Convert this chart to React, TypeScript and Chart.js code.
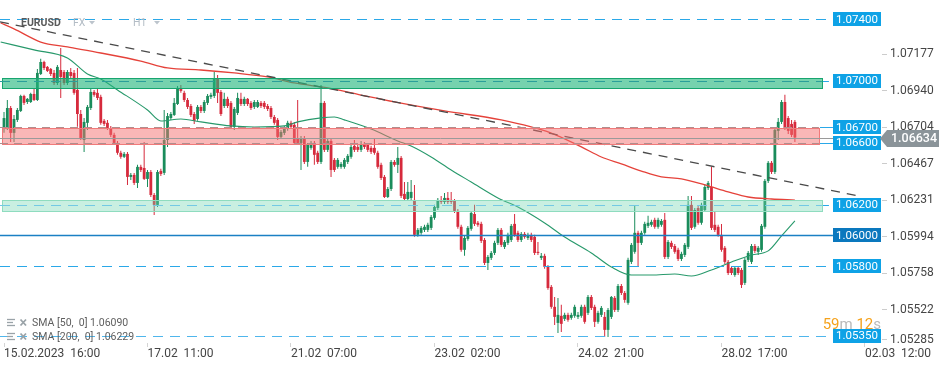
import React, { useEffect, useRef } from 'react';
import { Chart, registerables } from 'chart.js';

Chart.register(...registerables);

// ---------- DATA (EURUSD H1) ----------
const OPEN = [
  1.06696, 1.06696, 1.06825, 1.06664, 1.06748, 1.06806, 1.06903, 1.06864, 1.06864, 1.06916,
  1.06877, 1.07045, 1.07123, 1.07091, 1.07078, 1.07052, 1.06987, 1.07071, 1.07058, 1.06987,
  1.07058, 1.07052, 1.06942, 1.06786, 1.06618, 1.06729, 1.06825, 1.06929, 1.06923, 1.06897,
  1.06742, 1.06729, 1.06696, 1.06651, 1.06599, 1.06535, 1.06509, 1.06528, 1.06379, 1.06392,
  1.06340, 1.06444, 1.06437, 1.06366, 1.06411, 1.06262, 1.06198, 1.06418, 1.06405, 1.06618,
  1.06760, 1.06780, 1.06851, 1.06955, 1.06923, 1.06877, 1.06838, 1.06786, 1.06754, 1.06832,
  1.06806, 1.06858, 1.06897, 1.06903, 1.07013, 1.06929, 1.06838, 1.06884, 1.06858, 1.06703,
  1.06793, 1.06884, 1.06851, 1.06884, 1.06858, 1.06832, 1.06832, 1.06858, 1.06858, 1.06838,
  1.06825, 1.06767, 1.06748, 1.06638, 1.06664, 1.06690, 1.06729, 1.06716, 1.06631, 1.06599,
  1.06631, 1.06476, 1.06567, 1.06599, 1.06535, 1.06476, 1.06858, 1.06554, 1.06612, 1.06489,
  1.06444, 1.06444, 1.06444, 1.06476, 1.06509, 1.06580, 1.06573, 1.06554, 1.06593, 1.06586,
  1.06567, 1.06567, 1.06535, 1.06457, 1.06379, 1.06249, 1.06301, 1.06476, 1.06457, 1.06502,
  1.06269, 1.06236, 1.06243, 1.06230, 1.06004, 1.06017, 1.06036, 1.06036, 1.06049, 1.06114,
  1.06178, 1.06230, 1.06217, 1.06243, 1.06230, 1.06224, 1.06159, 1.06056, 1.05907, 1.05978,
  1.06043, 1.06139, 1.06082, 1.06075, 1.05971, 1.05822, 1.05855, 1.05887, 1.05952, 1.06036,
  1.05926, 1.05952, 1.05971, 1.06075, 1.06017, 1.05971, 1.06010, 1.05984, 1.06004, 1.05991,
  1.05894, 1.05855, 1.05868, 1.05797, 1.05667, 1.05538, 1.05434, 1.05480, 1.05460, 1.05486,
  1.05467, 1.05480, 1.05473, 1.05480, 1.05538, 1.05499, 1.05602, 1.05538, 1.05441, 1.05486,
  1.05473, 1.05389, 1.05473, 1.05596, 1.05518, 1.05673, 1.05628, 1.05564, 1.05829, 1.05894,
  1.06017, 1.05952, 1.06017, 1.06062, 1.06069, 1.06101, 1.06056, 1.06069, 1.06101, 1.05861,
  1.05952, 1.05932, 1.05907, 1.05848, 1.05874, 1.05926, 1.06198, 1.06056, 1.06178, 1.06082,
  1.06165, 1.06307, 1.06314, 1.06069, 1.06056, 1.06004, 1.05920, 1.05829, 1.05790, 1.05744,
  1.05790, 1.05777, 1.05693, 1.05842, 1.05829, 1.05932, 1.05894, 1.05907, 1.06056, 1.06353,
  1.06470, 1.06411, 1.06677, 1.06735, 1.06864, 1.06760, 1.06722, 1.06735,
];
const HIGH = [
  1.06799, 1.06877, 1.06838, 1.06780, 1.06825, 1.06910, 1.06910, 1.06890, 1.06923, 1.06948,
  1.07078, 1.07143, 1.07130, 1.07097, 1.07084, 1.07071, 1.07104, 1.07213, 1.07071, 1.07071,
  1.07084, 1.07071, 1.07084, 1.06812, 1.06760, 1.06845, 1.06948, 1.06942, 1.06948, 1.06910,
  1.06754, 1.06748, 1.06709, 1.06664, 1.06612, 1.06548, 1.06541, 1.06541, 1.06405, 1.06405,
  1.06457, 1.06457, 1.06605, 1.06424, 1.06424, 1.06275, 1.06424, 1.06431, 1.06812, 1.06793,
  1.06799, 1.06890, 1.06968, 1.06974, 1.06936, 1.06890, 1.06851, 1.06799, 1.06845, 1.06845,
  1.06877, 1.06916, 1.06923, 1.07058, 1.07039, 1.06942, 1.06923, 1.06897, 1.06871, 1.06832,
  1.06923, 1.06923, 1.06897, 1.06890, 1.06871, 1.06877, 1.06877, 1.06871, 1.06871, 1.06851,
  1.06838, 1.06780, 1.06760, 1.06683, 1.06709, 1.06742, 1.06742, 1.06735, 1.06877, 1.06644,
  1.06644, 1.06599, 1.06612, 1.06612, 1.06548, 1.06974, 1.06871, 1.06625, 1.06625, 1.06502,
  1.06502, 1.06476, 1.06502, 1.06528, 1.06586, 1.06618, 1.06586, 1.06612, 1.06605, 1.06599,
  1.06580, 1.06631, 1.06548, 1.06470, 1.06392, 1.06314, 1.06489, 1.06489, 1.06573, 1.06515,
  1.06346, 1.06346, 1.06359, 1.06327, 1.06049, 1.06062, 1.06069, 1.06082, 1.06133, 1.06198,
  1.06243, 1.06256, 1.06275, 1.06282, 1.06282, 1.06236, 1.06172, 1.06069, 1.05997, 1.06062,
  1.06159, 1.06198, 1.06094, 1.06088, 1.05984, 1.05874, 1.05900, 1.05965, 1.06049, 1.06049,
  1.05971, 1.06017, 1.06075, 1.06139, 1.06030, 1.06023, 1.06023, 1.06017, 1.06017, 1.06004,
  1.05958, 1.05887, 1.05881, 1.05809, 1.05680, 1.05602, 1.05596, 1.05551, 1.05499, 1.05499,
  1.05499, 1.05551, 1.05505, 1.05551, 1.05551, 1.05615, 1.05615, 1.05551, 1.05512, 1.05544,
  1.05505, 1.05531, 1.05609, 1.05609, 1.05686, 1.05686, 1.05641, 1.05855, 1.05952, 1.06191,
  1.06030, 1.06030, 1.06088, 1.06127, 1.06101, 1.06114, 1.06114, 1.06107, 1.06146, 1.05971,
  1.05965, 1.05945, 1.05920, 1.05894, 1.05952, 1.06256, 1.06256, 1.06178, 1.06191, 1.06211,
  1.06333, 1.06353, 1.06444, 1.06152, 1.06069, 1.06075, 1.05932, 1.05842, 1.05803, 1.05803,
  1.05803, 1.05790, 1.05855, 1.05900, 1.05945, 1.05945, 1.05932, 1.06075, 1.06366, 1.06482,
  1.06482, 1.06696, 1.06760, 1.06877, 1.06910, 1.06773, 1.06748, 1.06748,
];
const LOW = [
  1.06664, 1.06683, 1.06605, 1.06605, 1.06735, 1.06799, 1.06845, 1.06851, 1.06858, 1.06871,
  1.06871, 1.07039, 1.07071, 1.07058, 1.07032, 1.06974, 1.06974, 1.06890, 1.06974, 1.06974,
  1.07019, 1.06910, 1.06703, 1.06618, 1.06541, 1.06683, 1.06812, 1.06897, 1.06877, 1.06716,
  1.06709, 1.06683, 1.06638, 1.06586, 1.06522, 1.06496, 1.06502, 1.06327, 1.06359, 1.06327,
  1.06307, 1.06411, 1.06359, 1.06314, 1.06249, 1.06133, 1.06185, 1.06385, 1.06392, 1.06573,
  1.06748, 1.06773, 1.06845, 1.06923, 1.06864, 1.06819, 1.06767, 1.06722, 1.06742, 1.06793,
  1.06793, 1.06845, 1.06884, 1.06890, 1.06858, 1.06773, 1.06825, 1.06825, 1.06690, 1.06683,
  1.06780, 1.06838, 1.06838, 1.06838, 1.06812, 1.06819, 1.06825, 1.06825, 1.06819, 1.06806,
  1.06754, 1.06716, 1.06618, 1.06625, 1.06651, 1.06677, 1.06690, 1.06586, 1.06586, 1.06424,
  1.06463, 1.06444, 1.06554, 1.06457, 1.06463, 1.06463, 1.06541, 1.06541, 1.06379, 1.06411,
  1.06431, 1.06431, 1.06431, 1.06463, 1.06496, 1.06541, 1.06541, 1.06541, 1.06560, 1.06541,
  1.06528, 1.06522, 1.06431, 1.06359, 1.06243, 1.06243, 1.06288, 1.06444, 1.06405, 1.06243,
  1.06224, 1.06224, 1.06230, 1.05991, 1.05991, 1.06004, 1.06023, 1.06023, 1.06036, 1.06101,
  1.06165, 1.06204, 1.06204, 1.06204, 1.06204, 1.06146, 1.06043, 1.05894, 1.05868, 1.05965,
  1.06030, 1.06062, 1.06056, 1.05952, 1.05809, 1.05777, 1.05842, 1.05874, 1.05939, 1.05926,
  1.05913, 1.05939, 1.05958, 1.05991, 1.05958, 1.05958, 1.05978, 1.05971, 1.05958, 1.05874,
  1.05874, 1.05842, 1.05784, 1.05648, 1.05525, 1.05421, 1.05369, 1.05376, 1.05447, 1.05441,
  1.05454, 1.05467, 1.05460, 1.05467, 1.05428, 1.05486, 1.05518, 1.05408, 1.05428, 1.05473,
  1.05343, 1.05343, 1.05460, 1.05505, 1.05505, 1.05615, 1.05564, 1.05551, 1.05816, 1.05881,
  1.05803, 1.05939, 1.06004, 1.06049, 1.06056, 1.06043, 1.06043, 1.06056, 1.05848, 1.05848,
  1.05913, 1.05881, 1.05835, 1.05835, 1.05861, 1.05913, 1.06036, 1.06043, 1.06069, 1.06069,
  1.06152, 1.06295, 1.06036, 1.06023, 1.05991, 1.05894, 1.05816, 1.05744, 1.05744, 1.05732,
  1.05744, 1.05660, 1.05680, 1.05829, 1.05816, 1.05887, 1.05874, 1.05894, 1.06043, 1.06340,
  1.06398, 1.06398, 1.06618, 1.06722, 1.06683, 1.06657, 1.06638, 1.06605,
];
const CLOSE = [
  1.06760, 1.06825, 1.06664, 1.06754, 1.06812, 1.06903, 1.06858, 1.06884, 1.06916, 1.06877,
  1.07052, 1.07123, 1.07084, 1.07065, 1.07045, 1.06987, 1.07091, 1.07026, 1.06987, 1.07058,
  1.07032, 1.06923, 1.06786, 1.06631, 1.06735, 1.06832, 1.06929, 1.06910, 1.06890, 1.06729,
  1.06722, 1.06696, 1.06651, 1.06599, 1.06535, 1.06509, 1.06528, 1.06379, 1.06392, 1.06340,
  1.06444, 1.06424, 1.06366, 1.06411, 1.06262, 1.06198, 1.06411, 1.06398, 1.06618, 1.06773,
  1.06786, 1.06858, 1.06955, 1.06936, 1.06877, 1.06832, 1.06780, 1.06742, 1.06832, 1.06806,
  1.06864, 1.06903, 1.06910, 1.07013, 1.06923, 1.06786, 1.06884, 1.06838, 1.06703, 1.06819,
  1.06890, 1.06851, 1.06884, 1.06851, 1.06825, 1.06864, 1.06864, 1.06838, 1.06832, 1.06819,
  1.06767, 1.06729, 1.06638, 1.06670, 1.06696, 1.06729, 1.06703, 1.06599, 1.06599, 1.06631,
  1.06476, 1.06586, 1.06599, 1.06522, 1.06476, 1.06858, 1.06554, 1.06612, 1.06424, 1.06424,
  1.06489, 1.06463, 1.06489, 1.06515, 1.06573, 1.06554, 1.06554, 1.06586, 1.06573, 1.06554,
  1.06541, 1.06535, 1.06444, 1.06372, 1.06249, 1.06301, 1.06476, 1.06457, 1.06502, 1.06256,
  1.06236, 1.06282, 1.06282, 1.06004, 1.06036, 1.06049, 1.06056, 1.06069, 1.06120, 1.06185,
  1.06230, 1.06217, 1.06243, 1.06217, 1.06217, 1.06159, 1.06056, 1.05907, 1.05984, 1.06049,
  1.06146, 1.06075, 1.06069, 1.05965, 1.05822, 1.05861, 1.05887, 1.05952, 1.06036, 1.05939,
  1.05958, 1.06004, 1.06062, 1.06004, 1.05971, 1.06010, 1.05991, 1.06004, 1.05971, 1.05887,
  1.05887, 1.05868, 1.05797, 1.05660, 1.05538, 1.05473, 1.05486, 1.05428, 1.05486, 1.05454,
  1.05486, 1.05538, 1.05486, 1.05538, 1.05441, 1.05602, 1.05531, 1.05441, 1.05499, 1.05531,
  1.05389, 1.05518, 1.05602, 1.05518, 1.05673, 1.05628, 1.05583, 1.05842, 1.05939, 1.06017,
  1.05952, 1.06017, 1.06075, 1.06082, 1.06088, 1.06056, 1.06101, 1.06094, 1.05861, 1.05958,
  1.05926, 1.05894, 1.05848, 1.05881, 1.05939, 1.06198, 1.06049, 1.06165, 1.06082, 1.06198,
  1.06314, 1.06340, 1.06049, 1.06036, 1.06004, 1.05907, 1.05829, 1.05757, 1.05757, 1.05790,
  1.05757, 1.05680, 1.05842, 1.05887, 1.05932, 1.05900, 1.05920, 1.06062, 1.06353, 1.06470,
  1.06411, 1.06683, 1.06735, 1.06864, 1.06696, 1.06677, 1.06651, 1.06634,
];

// SMA lines (bar index -> value)
const SMA50_IDX = [-1, 9, 19, 25, 29, 34, 43, 47, 53, 59, 68, 75, 84, 88, 95, 99, 102, 110, 118, 122, 128, 134, 140, 148, 154, 162, 168, 176, 182, 188, 194, 201, 206, 212, 218, 224, 229, 233, 237];
const SMA50_VAL = [1.07252, 1.07201, 1.07149, 1.07045, 1.07013, 1.06942, 1.06812, 1.06741, 1.06754, 1.06735, 1.06709, 1.06702, 1.06709, 1.06735, 1.06761, 1.06767, 1.06748, 1.06689, 1.06612, 1.06579, 1.06508, 1.06424, 1.06346, 1.06243, 1.06184, 1.06081, 1.0599, 1.05887, 1.05796, 1.05744, 1.05744, 1.05751, 1.05738, 1.05777, 1.05828, 1.05874, 1.059, 1.05997, 1.06094];
const SMA200_IDX = [-1, 3, 11, 19, 29, 41, 49, 59, 69, 79, 87, 97, 107, 117, 132, 149, 164, 173, 179, 185, 191, 197, 203, 210, 217, 223, 230, 237];
const SMA200_VAL = [1.07375, 1.07337, 1.07252, 1.0722, 1.07181, 1.07129, 1.07084, 1.07071, 1.07052, 1.07026, 1.06987, 1.06955, 1.06909, 1.06864, 1.06806, 1.06748, 1.06663, 1.06573, 1.06508, 1.06463, 1.06417, 1.06379, 1.06366, 1.06327, 1.06282, 1.06249, 1.06236, 1.06229];

// trend line
const TREND_IDX = [-1.2, 256];
const TREND_VAL = [1.07382, 1.06256];

// horizontal levels, zones, current price
const LEVELS = [1.074, 1.07, 1.067, 1.066, 1.062, 1.06, 1.058, 1.0535];
const LEVEL_LABELS = ['1.07400', '1.07000', '1.06700', '1.06600', '1.06200', '1.06000', '1.05800', '1.05350'];
const ZONE_TOP = [1.07017, 1.06697, 1.0623];
const ZONE_BOTTOM = [1.06953, 1.0659, 1.06161];
const CURRENT = 1.06634;
const CURRENT_LABEL = '1.06634';

// axes
const Y_TICKS = [1.07177, 1.0694, 1.06704, 1.06467, 1.06231, 1.05994, 1.05758, 1.05522, 1.05285];
const X_TICK_IDX = [0, 43, 86, 129, 172, 215, 258];
const X_TICK_LABELS = ['15.02.2023  16:00', '17.02  11:00', '21.02  07:00', '23.02  02:00', '24.02  21:00', '28.02  17:00', '02.03  12:00'];

const LEGEND_LINES = ['SMA [50,  0] 1.06090', 'SMA [200,  0] 1.06229'];

// ---------- STYLE / LAYOUT ----------
const FONT = 'Roboto, "Noto Sans", sans-serif';
const GREEN = '#1a8c5b';
const RED = '#d62a3c';
const BLUE = '#2aa8e8';
const X_MIN = -1.2;
const X_MAX = 262.8;
const Y_MIN = 1.05304;
const Y_MAX = 1.07524;
const LINE_END_IDX = 248.4;
const ZONE_START_IDX = -0.6;
const ZONE_STYLE = [
  { end: 245.1, fill: 'rgba(34,182,124,0.62)', stroke: '#17a56f' },
  { end: 244.2, fill: 'rgba(243,112,112,0.5)', stroke: '#f07a7a' },
  { end: 245.1, fill: 'rgba(112,214,176,0.38)', stroke: '#8fdcbf' },
];
const LEVEL_STYLE = [
  { color: BLUE, dash: [10, 7], width: 1.2, stop: null, box: '#0ea2e6' },
  { color: '#2a9f9a', dash: [10, 7], width: 1.2, stop: 245.1, box: '#0ea2e6' },
  { color: '#b08e8e', dash: [8, 6], width: 1, stop: 244.2, box: '#0ea2e6' },
  { color: '#b08e8e', dash: [8, 6], width: 1, stop: 244.2, box: '#0ea2e6' },
  { color: '#74c9e4', dash: [10, 7], width: 1.2, stop: 245.1, box: '#0ea2e6' },
  { color: '#1b80c4', dash: [], width: 1.3, stop: null, box: '#0a78be' },
  { color: BLUE, dash: [10, 7], width: 1.2, stop: null, box: '#0ea2e6' },
  { color: '#4fb6ec', dash: [10, 7], width: 1.2, stop: null, box: '#0ea2e6' },
];

const overlayPlugin = {
  id: 'overlay',
  afterDatasetsDraw(chart: any) {
    const { ctx, chartArea: a } = chart;
    const sx = chart.scales.x;
    const sy = chart.scales.y;
    const px = (i: number) => sx.getPixelForValue(i);
    const py = (v: number) => sy.getPixelForValue(v);
    const xEnd = px(LINE_END_IDX);
    ctx.save();

    // zones
    ZONE_TOP.forEach((top, k) => {
      const st = ZONE_STYLE[k];
      const yt = Math.round(py(top)) + 0.5;
      const yb = Math.round(py(ZONE_BOTTOM[k])) + 0.5;
      const xl = Math.round(px(ZONE_START_IDX)) + 0.5;
      const xr = Math.round(px(st.end)) + 0.5;
      ctx.fillStyle = st.fill;
      ctx.fillRect(xl, yt, xr - xl, yb - yt);
      ctx.setLineDash([]);
      ctx.lineWidth = 1;
      ctx.strokeStyle = st.stroke;
      ctx.strokeRect(xl, yt, xr - xl, yb - yt);
    });

    // level lines
    LEVELS.forEach((v, k) => {
      const st = LEVEL_STYLE[k];
      const y = Math.round(py(v)) + 0.5;
      ctx.strokeStyle = st.color;
      ctx.lineWidth = st.width;
      ctx.setLineDash(st.dash);
      ctx.beginPath();
      ctx.moveTo(a.left, y);
      ctx.lineTo(st.stop != null ? px(st.stop) : xEnd, y);
      ctx.stroke();
      if (st.stop != null) {
        ctx.strokeStyle = BLUE;
        ctx.lineWidth = 1;
        ctx.setLineDash(k === 2 || k === 3 ? [] : [6, 4]);
        ctx.beginPath();
        ctx.moveTo(px(st.stop) + 1, y);
        ctx.lineTo(xEnd, y);
        ctx.stroke();
      }
    });
    ctx.setLineDash([]);

    // current price line
    const yc = Math.round(py(CURRENT)) + 0.5;
    ctx.strokeStyle = '#9a9a9a';
    ctx.lineWidth = 1;
    ctx.beginPath();
    ctx.moveTo(a.left, yc);
    ctx.lineTo(a.right, yc);
    ctx.stroke();

    // level label boxes
    ctx.font = `11.5px ${FONT}`;
    ctx.textAlign = 'center';
    ctx.textBaseline = 'middle';
    LEVELS.forEach((v, k) => {
      const y = py(v);
      ctx.fillStyle = LEVEL_STYLE[k].box;
      ctx.fillRect(Math.round(xEnd), Math.round(y - 7), Math.round(a.right - xEnd), 14);
      ctx.fillStyle = '#ffffff';
      ctx.fillText(LEVEL_LABELS[k], (xEnd + a.right) / 2, y + 0.5);
    });

    // y-axis tick labels (right)
    ctx.font = `12px ${FONT}`;
    ctx.textAlign = 'left';
    Y_TICKS.forEach((v) => {
      const y = Math.min(py(v), a.bottom - 4);
      ctx.strokeStyle = '#cccccc';
      ctx.beginPath();
      ctx.moveTo(a.right + 1, Math.round(y) + 0.5);
      ctx.lineTo(a.right + 6, Math.round(y) + 0.5);
      ctx.stroke();
      ctx.fillStyle = '#454545';
      ctx.fillText(v.toFixed(5), a.right + 9, y + 0.5);
    });

    // current price tag
    const tagL = a.right + 6;
    const tagR = 939;
    ctx.fillStyle = '#8b9499';
    ctx.beginPath();
    ctx.moveTo(a.right - 1, yc);
    ctx.lineTo(tagL, yc - 8.5);
    ctx.lineTo(tagR, yc - 8.5);
    ctx.lineTo(tagR, yc + 8.5);
    ctx.lineTo(tagL, yc + 8.5);
    ctx.closePath();
    ctx.fill();
    ctx.fillStyle = '#ffffff';
    ctx.font = `500 12.5px ${FONT}`;
    ctx.textAlign = 'center';
    ctx.fillText(CURRENT_LABEL, (tagL + tagR) / 2 + 1, yc + 0.5);
    ctx.textAlign = 'left';

    // title (top-left)
    ctx.textBaseline = 'middle';
    ctx.font = `bold 10.5px ${FONT}`;
    ctx.fillStyle = '#5b5b5b';
    ctx.fillText('EURUSD', 21, 23);
    ctx.font = `10.5px ${FONT}`;
    ctx.fillStyle = '#b3bcc5';
    ctx.fillText('FX', 73, 23);
    ctx.fillText('H1', 133, 23);
    const tri = (x: number) => {
      ctx.beginPath();
      ctx.moveTo(x, 21);
      ctx.lineTo(x + 6, 21);
      ctx.lineTo(x + 3, 24.5);
      ctx.closePath();
      ctx.fill();
    };
    ctx.fillStyle = '#bcc4cc';
    tri(89);
    tri(154);

    // legend (bottom-left)
    LEGEND_LINES.forEach((txt, k) => {
      const y = 323 + k * 14;
      ctx.strokeStyle = '#9aa3a8';
      ctx.lineWidth = 1.3;
      for (let r = 0; r < 3; r++) {
        ctx.beginPath();
        ctx.moveTo(7, y - 3.5 + r * 3);
        ctx.lineTo(r === 1 ? 13 : 15, y - 3.5 + r * 3);
        ctx.stroke();
      }
      ctx.lineWidth = 1.8;
      ctx.beginPath();
      ctx.moveTo(20.5, y - 3.5);
      ctx.lineTo(26, y + 2.5);
      ctx.moveTo(26, y - 3.5);
      ctx.lineTo(20.5, y + 2.5);
      ctx.stroke();
      ctx.font = `10.5px ${FONT}`;
      ctx.fillStyle = '#5e5e5e';
      ctx.fillText(txt, 32, y);
    });

    // bar countdown
    ctx.font = `15px ${FONT}`;
    const parts: [string, string][] = [['59', '#f5a21c'], ['m', '#b9b9b9'], [' 12', '#f5a21c'], ['s', '#b9b9b9']];
    let total = 0;
    parts.forEach(([t]) => { total += ctx.measureText(t).width; });
    let cx = a.right - total;
    parts.forEach(([t, c]) => {
      ctx.fillStyle = c;
      ctx.fillText(t, cx, 325);
      cx += ctx.measureText(t).width;
    });

    ctx.restore();
  },
};

export default function App() {
  const ref = useRef<HTMLCanvasElement>(null);

  useEffect(() => {
    if (!ref.current) return;
    Chart.defaults.font.family = FONT;
    const colors = CLOSE.map((c, i) => (c >= OPEN[i] ? GREEN : RED));
    const wicks = LOW.map((l, i) => ({ x: i, y: [l, HIGH[i]] }));
    const bodies = OPEN.map((o, i) => ({ x: i, y: [o, CLOSE[i]] }));

    const chart = new Chart(ref.current, {
      type: 'bar',
      data: {
        datasets: [
          {
            type: 'bar',
            data: wicks as any,
            backgroundColor: colors,
            barThickness: 1,
            grouped: false,
            borderWidth: 0,
            inflateAmount: 0,
            order: 4,
          } as any,
          {
            type: 'bar',
            data: bodies as any,
            backgroundColor: colors,
            barThickness: 2.8,
            minBarLength: 1,
            grouped: false,
            borderWidth: 0,
            inflateAmount: 0,
            order: 3,
          } as any,
          {
            type: 'line',
            data: SMA200_IDX.map((x, k) => ({ x, y: SMA200_VAL[k] })),
            borderColor: '#e5423a',
            borderWidth: 1.3,
            pointRadius: 0,
            cubicInterpolationMode: 'monotone',
            fill: false,
            order: 2,
          } as any,
          {
            type: 'line',
            data: SMA50_IDX.map((x, k) => ({ x, y: SMA50_VAL[k] })),
            borderColor: '#27996b',
            borderWidth: 1.1,
            pointRadius: 0,
            cubicInterpolationMode: 'monotone',
            fill: false,
            order: 1,
          } as any,
          {
            type: 'line',
            data: TREND_IDX.map((x, k) => ({ x, y: TREND_VAL[k] })),
            borderColor: '#4a4a4a',
            borderWidth: 1.3,
            borderDash: [9, 7],
            pointRadius: 0,
            fill: false,
            order: 0,
          } as any,
        ],
      },
      options: {
        responsive: false,
        animation: false,
        devicePixelRatio: 1,
        events: [],
        layout: { padding: 0 },
        plugins: { legend: { display: false }, tooltip: { enabled: false } },
        scales: {
          x: {
            type: 'linear',
            min: X_MIN,
            max: X_MAX,
            offset: false,
            afterBuildTicks: (s: any) => {
              s.ticks = X_TICK_IDX.map((v) => ({ value: v }));
            },
            afterFit: (s: any) => {
              s.height = 27;
            },
            ticks: {
              autoSkip: false,
              maxRotation: 0,
              minRotation: 0,
              align: 'start',
              padding: 0,
              color: '#444444',
              font: { family: FONT, size: 12 },
              callback: (v: any) => {
                const k = X_TICK_IDX.indexOf(Number(v));
                return k >= 0 ? X_TICK_LABELS[k] : '';
              },
            },
            grid: { drawOnChartArea: false, drawTicks: true, tickLength: 4, color: '#d4d4d4', offset: false },
            border: { display: false },
          },
          y: {
            type: 'linear',
            position: 'right',
            min: Y_MIN,
            max: Y_MAX,
            afterFit: (s: any) => {
              s.width = 68;
            },
            ticks: { display: false },
            grid: { display: false },
            border: { display: false },
          },
        } as any,
      },
      plugins: [overlayPlugin as any],
    } as any);

    return () => chart.destroy();
  }, []);

  return (
    <div style={{ position: 'fixed', left: 0, top: 0, width: 949, height: 370, background: '#ffffff' }}>
      <canvas ref={ref} width={949} height={370} style={{ display: 'block', width: 949, height: 370 }} />
    </div>
  );
}
